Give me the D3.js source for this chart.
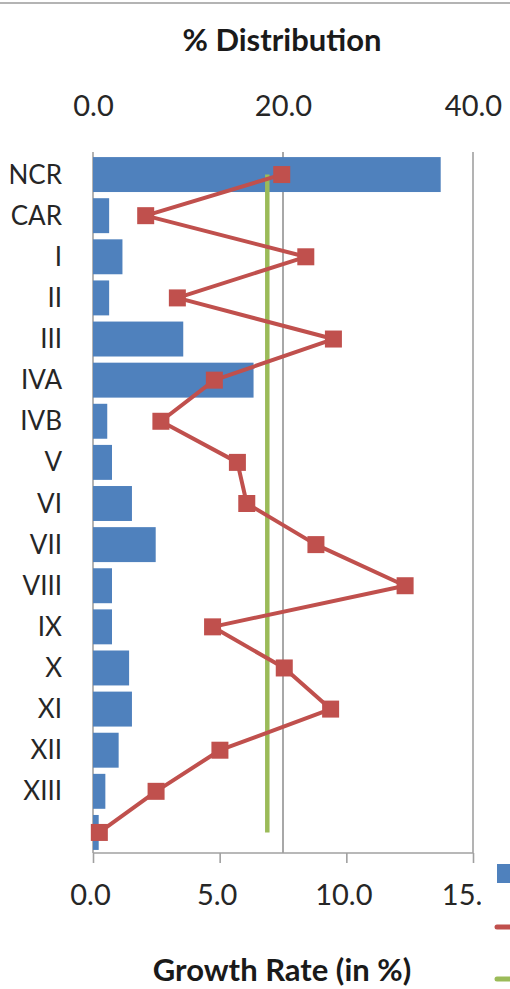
<!DOCTYPE html>
<html>
<head>
<meta charset="utf-8">
<script src="https://cdn.jsdelivr.net/npm/d3@7"></script>
<style>
  html, body { margin: 0; padding: 0; background: #fff; }
  svg { display: block; }
  text { font-family: Lato, "Open Sans", sans-serif; }
</style>
</head>
<body>
<svg id="chart" width="510" height="989"></svg>
<script>
// ---- data ----
const categories = ["NCR", "CAR", "I", "II", "III", "IVA", "IVB", "V", "VI", "VII", "VIII", "IX", "X", "XI", "XII", "XIII", ""];
const distribution = [36.6, 1.7, 3.1, 1.7, 9.5, 16.9, 1.5, 2.0, 4.1, 6.6, 2.0, 2.0, 3.8, 4.1, 2.7, 1.3, 0.6];
const growthRate = [7.45, 2.08, 8.40, 3.33, 9.49, 4.79, 2.68, 5.70, 6.07, 8.80, 12.32, 4.72, 7.55, 9.38, 5.01, 2.49, 0.25];
const averageGrowth = [6.88, 6.88, 6.88, 6.88, 6.88, 6.88, 6.88, 6.88, 6.88, 6.88, 6.88, 6.88, 6.88, 6.88, 6.88, 6.88, 6.88];
const topTicks = [0, 20, 40];
const bottomTicks = [0, 5, 10, 15];
const topTitle = "% Distribution";
const bottomTitle = "Growth Rate (in %)";

// ---- layout ----
const W = 510, H = 989;
const plot = { left: 93, right: 473, top: 154, bottom: 853 };
const colors = { bar: "#4f81bd", line: "#c0504d", avg: "#9bbb59" };

const svg = d3.select("#chart");

const y = d3.scaleBand().domain(categories).range([plot.top, plot.bottom])
  .paddingInner(0.15).paddingOuter(0.075);
const xTop = d3.scaleLinear().domain([0, 40]).range([plot.left, plot.right]);
const xBot = d3.scaleLinear().domain([0, 15]).range([plot.left, plot.right]);

// chart border line at top
svg.append("line").attr("x1", 0).attr("x2", W).attr("y1", 3).attr("y2", 3)
  .attr("stroke", "#b4b4b4").attr("stroke-width", 2);

// titles
svg.append("text").attr("x", (plot.left + plot.right) / 2 - 1).attr("y", 51)
  .attr("text-anchor", "middle").attr("font-weight", "bold").attr("font-size", 31)
  .attr("fill", "#1a1a1a").text(topTitle);
svg.append("text").attr("x", (plot.left + plot.right) / 2 - 1).attr("y", 981)
  .attr("text-anchor", "middle").attr("font-weight", "bold").attr("font-size", 31)
  .attr("fill", "#1a1a1a").text(bottomTitle);

// vertical lines at top-axis ticks
svg.append("g").selectAll("line").data(topTicks).join("line")
  .attr("x1", d => xTop(d)).attr("x2", d => xTop(d))
  .attr("y1", plot.top - 2).attr("y2", plot.bottom)
  .attr("stroke", (d, i) => i === 1 ? "#6e6e6e" : "#a0a0a0")
  .attr("stroke-width", (d, i) => i === 1 ? 1.2 : 1.6);

// top axis labels
const topAxis = svg.append("g").attr("transform", `translate(0,${plot.top})`)
  .call(d3.axisTop(xTop).tickValues(topTicks).tickFormat(d3.format(".1f")).tickSize(0).tickPadding(38));
topAxis.select(".domain").remove();
topAxis.selectAll("text").attr("font-size", 29).attr("fill", "#262626")
  .attr("font-family", "Lato, 'Open Sans', sans-serif");

// bars
svg.append("g").selectAll("rect").data(categories).join("rect")
  .attr("x", xTop(0))
  .attr("y", d => y(d))
  .attr("width", (d, i) => xTop(distribution[i]) - xTop(0))
  .attr("height", y.bandwidth())
  .attr("fill", colors.bar);

// bottom axis
const botAxis = svg.append("g").attr("transform", `translate(0,${plot.bottom})`)
  .call(d3.axisBottom(xBot).tickValues(bottomTicks).tickFormat(d3.format(".1f")).tickSize(10).tickPadding(21));
botAxis.select(".domain").attr("stroke", "#a0a0a0").attr("stroke-width", 1.6).attr("d", `M${plot.left},0H${plot.right}`);
botAxis.selectAll(".tick line").attr("stroke", "#a0a0a0").attr("stroke-width", 1.6);
botAxis.selectAll("text").attr("font-size", 29).attr("fill", "#262626").attr("dx", -3)
  .attr("font-family", "Lato, 'Open Sans', sans-serif");

// category labels
svg.append("g").selectAll("text").data(categories).join("text")
  .attr("x", 62)
  .attr("y", d => y(d) + y.bandwidth() / 2)
  .attr("dy", "0.35em")
  .attr("text-anchor", "end")
  .attr("font-size", 26)
  .attr("fill", "#262626")
  .text(d => d);

const cy = (d) => y(d) + y.bandwidth() / 2;

// average growth line
svg.append("path")
  .datum(categories)
  .attr("fill", "none").attr("stroke", colors.avg).attr("stroke-width", 4.5)
  .attr("d", d3.line().x((d, i) => xBot(averageGrowth[i])).y(d => cy(d)));

// growth rate line
svg.append("path")
  .datum(categories)
  .attr("fill", "none").attr("stroke", colors.line).attr("stroke-width", 4)
  .attr("stroke-linejoin", "round")
  .attr("d", d3.line().x((d, i) => xBot(growthRate[i])).y(d => cy(d)));

const ms = 17;
svg.append("g").selectAll("rect").data(categories).join("rect")
  .attr("x", (d, i) => xBot(growthRate[i]) - ms / 2)
  .attr("y", d => cy(d) - ms / 2)
  .attr("width", ms).attr("height", ms)
  .attr("fill", colors.line);

// legend (cut off by the right edge)
const legend = svg.append("g");
legend.append("rect").attr("x", 481).attr("y", 858).attr("width", 40).attr("height", 131).attr("fill", "#fff");
legend.append("rect").attr("x", 497).attr("y", 864).attr("width", 20).attr("height", 19).attr("fill", colors.bar);
legend.append("line").attr("x1", 497).attr("x2", 520).attr("y1", 927).attr("y2", 927)
  .attr("stroke", colors.line).attr("stroke-width", 5).attr("stroke-linecap", "round");
legend.append("line").attr("x1", 497).attr("x2", 520).attr("y1", 979).attr("y2", 979)
  .attr("stroke", colors.avg).attr("stroke-width", 5).attr("stroke-linecap", "round");
</script>
</body>
</html>
